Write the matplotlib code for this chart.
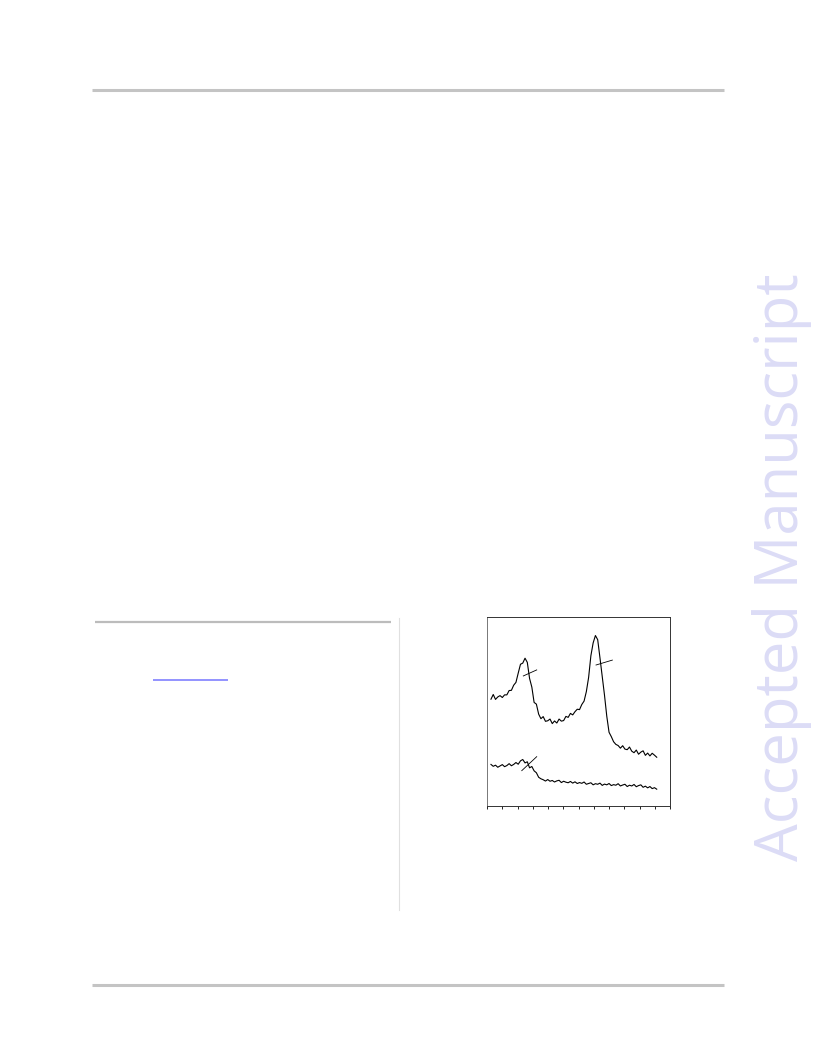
import matplotlib.pyplot as plt
import numpy as np

# spectra (arbitrary units, x in tick units 0..12)
upper = [56.5, 59.0, 56.4, 57.7, 58.4, 57.4, 58.8, 58.8, 61.1, 61.2,
         63.9, 65.4, 70.3, 75.0, 75.6, 78.2, 76.0, 67.5, 62.9, 54.8,
         53.9, 48.6, 46.2, 47.3, 44.8, 45.1, 46.0, 43.6, 45.0, 43.9,
         46.0, 44.9, 45.2, 47.4, 46.9, 49.0, 48.2, 49.9, 51.2, 51.0,
         53.7, 55.5, 60.5, 68.0, 79.5, 86.3, 90.2, 88.0, 78.4, 68.5,
         58.6, 47.5, 39.0, 36.7, 34.0, 32.6, 32.0, 30.6, 31.9, 30.1,
         29.8, 31.2, 29.0, 28.2, 29.6, 27.4, 28.5, 29.2, 26.8, 28.0,
         26.5, 27.9, 26.9, 25.8]
lower = [22.0, 21.0, 21.6, 20.5, 21.2, 21.9, 20.8, 21.4, 22.4, 21.3,
         22.0, 23.0, 22.1, 23.9, 24.6, 22.8, 23.4, 20.2, 20.9, 18.6,
         17.6, 15.2, 14.4, 13.9, 13.2, 14.0, 13.1, 13.5, 12.7, 13.3,
         13.6, 12.4, 13.1, 12.6, 12.3, 13.0, 12.1, 12.8, 11.9, 12.4,
         12.0, 12.7, 11.5, 11.9, 12.3, 11.2, 11.8, 11.5, 12.1, 10.9,
         11.6, 11.2, 11.9, 10.8, 11.3, 11.0, 11.8, 10.6, 11.1, 11.5,
         10.3, 11.0, 10.6, 11.4, 10.2, 10.8, 11.2, 9.9, 10.5, 9.6,
         10.3, 9.2, 9.7, 8.9]
x_start, x_end = 0.26, 11.13

# small slanted marks across the peaks
mark1_x, mark1_y = [2.38, 3.26], [68.8, 72.0]
mark2_x, mark2_y = [7.15, 8.22], [74.6, 77.2]
mark3_x, mark3_y = [2.28, 3.26], [18.7, 26.1]

fig = plt.figure(figsize=(8.16, 10.56), dpi=100)

# page decoration layer in pixel coordinates
bg = fig.add_axes([0, 0, 1, 1])
bg.set_xlim(0, 816)
bg.set_ylim(1056, 0)
bg.axis('off')
bg.plot([92, 724], [90, 90], color='#c4c4c4', lw=2.2, solid_capstyle='butt')
bg.plot([92, 724], [985, 985], color='#c4c4c4', lw=2.2, solid_capstyle='butt')
bg.plot([95, 391], [622, 622], color='#bcbcbc', lw=1.6, solid_capstyle='butt')
bg.plot([398.5, 398.5], [618, 910], color='#e0e0e0', lw=0.8)
bg.plot([153, 228], [680, 680], color='#8080ff', lw=1.2, solid_capstyle='butt')
bg.text(782, 567, 'Accepted Manuscript', rotation=90, ha='center', va='center',
        fontsize=43, family='Open Sans', color='#dcdcf6')

ax = fig.add_axes([487 / 816, 1 - 806 / 1056, 183 / 816, 189 / 1056])
xs = np.linspace(x_start, x_end, len(upper))
ax.plot(xs, upper, color='black', lw=0.8)
ax.plot(xs, lower, color='black', lw=0.8)
for mx, my in [(mark1_x, mark1_y), (mark2_x, mark2_y), (mark3_x, mark3_y)]:
    ax.plot(mx, my, color='black', lw=0.6)

ax.set_xlim(0, 12)
ax.set_ylim(0, 100)
ax.set_xticks(np.arange(0, 13, 1))
ax.set_yticks([])
ax.tick_params(axis='x', direction='out', length=1.8, width=0.6, labelbottom=False)
for s in ax.spines.values():
    s.set_linewidth(0.7)
    s.set_color('#333333')
ax.spines['left'].set_color('#777777')

plt.savefig('out.png', dpi=100)
